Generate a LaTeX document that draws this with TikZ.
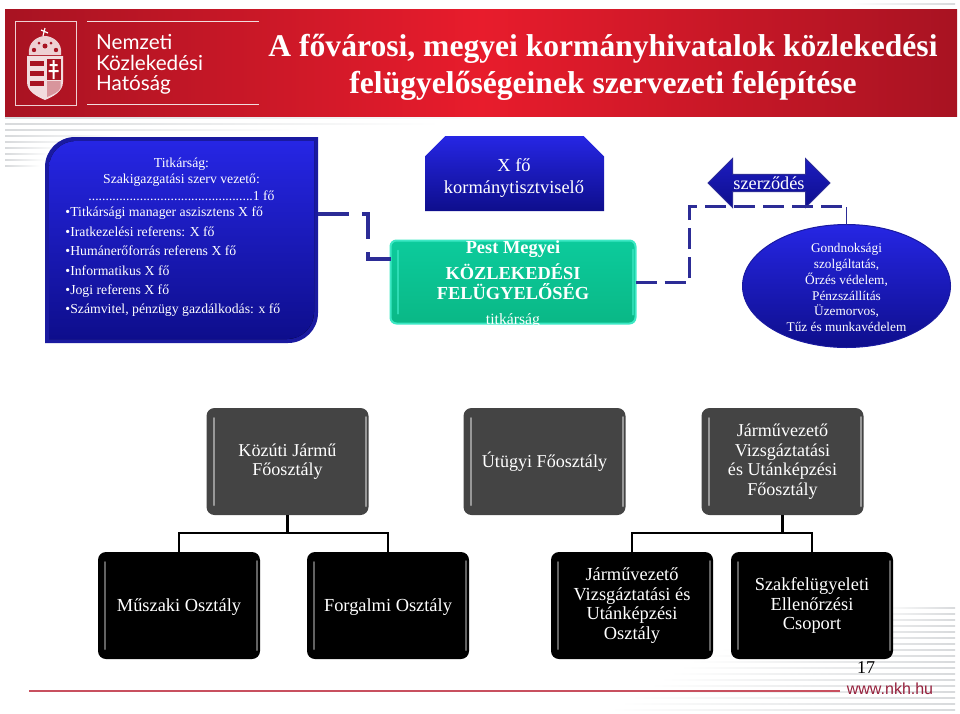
\documentclass[tikz,border=0pt]{standalone}
\usepackage{fontspec}
\setmainfont{Liberation Serif}
\setsansfont{Liberation Sans}
\newfontfamily\logofont{Lato}
\usepackage{xcolor}
\usetikzlibrary{arrows.meta,positioning,shapes.geometric,shapes.arrows,shapes.misc,calc}
\definecolor{BannerDark}{HTML}{A81322}
\definecolor{BannerBright}{HTML}{E81C2C}
\definecolor{PanelBlue}{HTML}{2626E4}
\definecolor{PanelBlueDark}{HTML}{0E0E8C}
\definecolor{PanelEdge}{HTML}{1A1AA0}
\definecolor{LinkBlue}{HTML}{2C2C96}
\definecolor{GreenTop}{HTML}{0CCB9C}
\definecolor{GreenBottom}{HTML}{0AB886}
\definecolor{GreenEdge}{HTML}{3CE8C4}
\definecolor{GreyBox}{HTML}{444444}
\definecolor{StripeGrey}{HTML}{D8DADC}
\definecolor{FootRed}{HTML}{C8505F}
\definecolor{FootText}{HTML}{96203C}
\tikzset{
  gloss/.style={path picture={
    \draw[line width=2pt,line cap=round,opacity=.7,#1] ([xshift=7pt,yshift=-10pt]path picture bounding box.north west) -- ([xshift=7pt,yshift=10pt]path picture bounding box.south west);
    \draw[line width=2pt,line cap=round,opacity=.7,#1] ([xshift=-3pt,yshift=-9pt]path picture bounding box.north east) -- ([xshift=-3pt,yshift=9pt]path picture bounding box.south east);}},
  greybox/.style={fill=GreyBox,rounded corners=8pt,minimum width=162pt,minimum height=107pt,outer sep=0pt,inner sep=2pt,align=center,text=white,gloss=white!65!GreyBox,font=\fontsize{18.1}{19.7}\selectfont,execute at begin node={\rule{0pt}{14.5pt}}},
  blackbox/.style={fill=black,rounded corners=8pt,minimum width=162pt,minimum height=107pt,outer sep=0pt,inner sep=2pt,align=center,text=white,gloss=white!55!black,font=\fontsize{18.4}{19.6}\selectfont,execute at begin node={\rule{0pt}{16pt}}},
  panelnode/.style={minimum width=#1,outer sep=0pt,inner sep=0pt},
  paneltext/.style={text=white,inner sep=0pt,font=\fontsize{13.7}{16.5}\selectfont},
  chamfernode/.style={chamfered rectangle,chamfered rectangle corners={north west,north east},chamfered rectangle xsep=12pt,chamfered rectangle ysep=12pt,top color=PanelBlue,bottom color=PanelBlueDark,minimum width=179pt,minimum height=75pt,outer sep=0pt,inner sep=0pt,font=\fontsize{18.4}{22}\selectfont},
  greennode/.style={top color=GreenTop,bottom color=GreenBottom,draw=GreenEdge,line width=2pt,rounded corners=6pt,minimum width=245pt,minimum height=83pt,outer sep=0pt,inner sep=0pt,gloss=GreenEdge},
  greentext/.style={text=white,inner sep=0pt,align=center,font=\bfseries\fontsize{18.4}{20}\selectfont},
  contractnode/.style={double arrow,double arrow head extend=13pt,double arrow head indent=0pt,minimum height=122pt,minimum width=49pt,inner sep=0pt,outer sep=0pt,top color=PanelBlue!60!PanelBlueDark,bottom color=PanelBlueDark,draw=LinkBlue,line width=1pt,text=white,font=\fontsize{18.3}{19}\selectfont},
  ellipsenode/.style={ellipse,top color=PanelBlue,bottom color=PanelBlueDark,draw=PanelEdge,line width=1pt,minimum width=208pt,minimum height=123pt,inner sep=0pt,outer sep=0pt},
  bigdash/.style={draw=LinkBlue,line width=3.5pt,dash pattern=on 31pt off 13pt},
  smalldash/.style={draw=LinkBlue,line width=3pt,dash pattern=on 21pt off 8pt},
  treelink/.style={draw=black,line width=2.5pt}
}
\begin{document}
\begin{tikzpicture}[x=1pt,y=-1pt]
\useasboundingbox (0,0) rectangle (960,713);
% stripes behind everything
\foreach \yy/\xend in {117/520,123/440,129/300,135/120,141/80,147/60,153/50,159/45,165/40}
  \fill[left color=StripeGrey,right color=white] (5,\yy) rectangle (\xend,\yy+1.5);
\foreach \yy/\xstart in {607/880,613/860,619/830,625/800,631/780,637/760,643/740,649/720,655/700,661/690,667/680,673/670,679/660,685/650,691/640,697/630,703/620,709/610}
  \fill[left color=white,right color=StripeGrey] (\xstart,\yy) rectangle (955,\yy+1.5);
\fill[left color=white,right color=StripeGrey] (850,3) rectangle (955,4.5);
% banner
\node[left color=BannerDark,right color=BannerDark,middle color=BannerBright,minimum width=952pt,minimum height=107pt,inner sep=0pt,outer sep=0pt] (banner) at (481,62.5) {};
\node[draw=white!80!BannerDark,line width=1pt,minimum width=61pt,minimum height=84pt,inner sep=0pt] (logobox) at (45.5,63) {};
\draw[white!85!BannerDark,line width=1pt] (87,21) -- (259,21) (87,104) -- (259,104);
\node[anchor=west,text=white,align=left,inner sep=0pt,font=\logofont\fontsize{20.7}{20.5}\selectfont] (logotext) at (96,64.5) {Nemzeti\\Közlekedési\\Hatóság};
% coat of arms
\fill[white!80!BannerDark] (29,55) .. controls (27,42) and (38,36) .. (45,36) .. controls (52,36) and (63,42) .. (61,55) -- cycle;
\draw[white,line width=1.2pt] (43,36) -- (45,28) (41,30) -- (48,33);
\fill[BannerDark] (34,50) circle (2.2) (45,46) circle (2.5) (56,50) circle (2.2) (39,43) circle (1.5) (51,43) circle (1.5);
\fill[white!85!BannerDark] (27,56) -- (63,56) -- (63,82) .. controls (63,92) and (52,97) .. (45,100) .. controls (38,97) and (27,92) .. (27,82) -- cycle;
\foreach \yy in {61,71,81}
  \fill[BannerDark] (30,\yy) rectangle (43.5,\yy+4.5);
\fill[BannerDark] (47,59) rectangle (60.5,80);
\fill[white] (52.5,60) rectangle (54.5,79) (49.5,64) rectangle (57.5,66) (48.5,70) rectangle (58.5,72);
\fill[white!55!BannerDark] (47,81) rectangle (60.5,88) (47,88) -- (60.5,88) .. controls (59,92) and (52,95) .. (47,97) -- cycle;
% title
\node[text=white,align=center,inner sep=0pt,font=\bfseries\fontsize{31.6}{37}\selectfont] (title) at (603,67) {A fővárosi, megyei kormányhivatalok közlekedési\\felügyelőségeinek szervezeti felépítése};
% secretariat panel
\node[panelnode=273pt,minimum height=206pt] (titkarsag) at (181.5,240) {};
\node[panelnode=265pt,minimum height=198pt] (titkarsagin) at (181.5,240) {};
\fill[PanelEdge] (titkarsag.south west) [rounded corners=30pt] -- (titkarsag.north west) [sharp corners] -- (titkarsag.north east) [rounded corners=30pt] -- (titkarsag.south east) [sharp corners] -- cycle;
\fill[top color=PanelBlue,bottom color=PanelBlueDark] (titkarsagin.south west) [rounded corners=27pt] -- (titkarsagin.north west) [sharp corners] -- (titkarsagin.north east) [rounded corners=27pt] -- (titkarsagin.south east) [sharp corners] -- cycle;
\node[paneltext,align=center] (titkarsaghead) at (181.5,179) {Titkárság:\\Szakigazgatási szerv vezető:\\................................................1 fő};
\node[paneltext,align=left,font=\fontsize{13.75}{19.4}\selectfont,below=6.5pt of titkarsaghead.south west,xshift=-23pt,anchor=north west] (titkarsaglist) {•Titkársági manager aszisztens X fő\\•Iratkezelési referens: X fő\\•Humánerőforrás referens X fő\\•Informatikus X fő\\•Jogi referens X fő\\•Számvitel, pénzügy gazdálkodás: x fő};
% head office
\node[chamfernode] (kormany) at (514.5,173.5) {\phantom{kormánytisztviselő}};
\node[text=white,inner sep=0pt,align=center,font=\fontsize{18.4}{22}\selectfont] (kormanytext) at (514,178) {X fő\\kormánytisztviselő};
\node[greennode] (pest) at (513,282) {};
\node[greentext] (pesttext) at (513,270) {Pest Megyei\\[6pt]KÖZLEKEDÉSI\\FELÜGYELŐSÉG};
\node[greentext,below=14pt of pesttext,font=\fontsize{15.7}{17}\selectfont] (titk) {titkárság};
% contract side
\node[contractnode] (szerzodes) at (769,183) {szerződés};
\node[ellipsenode] (gondnok) at (846.5,286) {};
\node[text=white,inner sep=0pt,align=center,font=\fontsize{13.3}{15.9}\selectfont] (gondnoktext) at (846.5,287.5) {Gondnoksági\\szolgáltatás,\\Őrzés védelem,\\Pénzszállítás\\Üzemorvos,\\Tűz és munkavédelem};
\draw[draw=LinkBlue,line width=1.8pt] (gondnok.north) -- ++(0,-18) coordinate (gondnoktop);
\draw[bigdash] ([yshift=26pt]titkarsag.east) -- ++(50,0) |- ([yshift=23pt]pest.west);
\draw[smalldash] (pest.east) -- ++(54,0) |- (gondnoktop);
% main departments
\node[greybox] (kozuti) at (287.5,461.5) {Közúti Jármű\\Főosztály};
\node[greybox,right=95pt of kozuti] (utugyi) {Útügyi Főosztály};
\node[greybox,right=76pt of utugyi] (jarmuvezeto) {Járművezető\\Vizsgáztatási\\és Utánképzési\\Főosztály};
% departments
\node[blackbox] (muszaki) at (179,605.5) {Műszaki Osztály};
\node[blackbox,right=47pt of muszaki] (forgalmi) {Forgalmi Osztály};
\node[blackbox,right=82pt of forgalmi] (vizsga) {Járművezető\\Vizsgáztatási és\\Utánképzési\\Osztály};
\node[blackbox,right=18pt of vizsga] (szakfel) {Szakfelügyeleti\\Ellenőrzési\\Csoport};
\draw[treelink] (kozuti.south) -- ++(0,18) coordinate (kozutijoin);
\draw[treelink] (kozutijoin) -| (muszaki.north);
\draw[treelink] (kozutijoin) -| (forgalmi.north);
\draw[treelink] (jarmuvezeto.south) -- ++(0,18) coordinate (jarmujoin);
\draw[treelink] (jarmujoin) -| (vizsga.north);
\draw[treelink] (jarmujoin) -| (szakfel.north);
% footer
\draw[FootRed,line width=1.2pt] (29,691) -- (840,691);
\node[inner sep=0pt,font=\fontsize{18}{20}\selectfont] (pageno) at (866,668) {17};
\node[inner sep=0pt,text=FootText,font=\sffamily\fontsize{16}{18}\selectfont] (web) at (890,689) {www.nkh.hu};
\end{tikzpicture}
\end{document}
